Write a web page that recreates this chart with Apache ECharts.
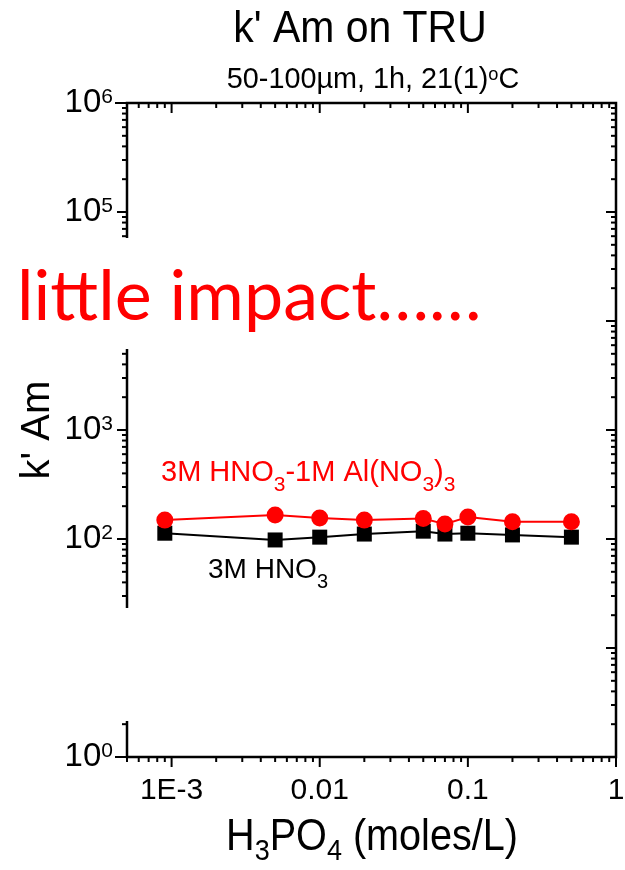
<!DOCTYPE html>
<html>
<head>
<meta charset="utf-8">
<script src="https://cdn.jsdelivr.net/npm/echarts@6/dist/echarts.min.js"></script>
<style>
  html, body { margin: 0; padding: 0; background: #fff; }
  #chart { width: 625px; height: 870px; }
</style>
</head>
<body>
<div id="chart"></div>
<script>
// H3PO4 concentration (moles/L)
const concentrations = [0.0009, 0.005, 0.01, 0.02, 0.05, 0.07, 0.1, 0.2, 0.5];
// k' Am in 3M HNO3 - 1M Al(NO3)3
const kAmHNO3Al = [149, 166, 156, 149, 154, 137, 159, 144, 144];
// k' Am in 3M HNO3
const kAmHNO3 = [113, 98, 104, 111, 118, 111, 113, 109, 104];

// axis ranges and tick labels
const X_MIN = 5e-4, X_MAX = 1;
const Y_MIN = 1, Y_MAX = 1e6;
const xTickValues = [0.001, 0.01, 0.1, 1];
const xTickLabels = ['1E-3', '0.01', '0.1', '1'];
const yTickExponents = [0, 1, 2, 3, 4, 5, 6];

const SANS = '"Liberation Sans", Arial, sans-serif';

// decade ticks (major) and 2..9 ticks (minor) inside an extent
function decadeTicks(lo, hi) {
  const major = [], minor = [];
  for (let n = Math.floor(Math.log10(lo)); n <= Math.ceil(Math.log10(hi)); n++) {
    for (let k = 1; k <= 9; k++) {
      const v = k * Math.pow(10, n);
      if (v < lo * 0.9999 || v > hi * 1.0001) continue;
      (k === 1 ? major : minor).push(v);
    }
  }
  return { major, minor };
}
const xt = decadeTicks(X_MIN, X_MAX);
const yt = decadeTicks(Y_MIN, Y_MAX);

const TICK_W = 2;
// bottom ticks point out, top ticks point in
function xTickSeries(values, len) {
  return {
    type: 'custom', silent: true, clip: false, z: 5,
    data: values.map(v => [v, Y_MIN]),
    renderItem(params, api) {
      const cs = params.coordSys;
      const x = api.coord([api.value(0), Y_MIN])[0];
      const top = cs.y, bottom = cs.y + cs.height;
      return {
        type: 'group',
        children: [
          { type: 'line', shape: { x1: x, y1: bottom, x2: x, y2: bottom + len }, style: { stroke: '#000', lineWidth: TICK_W } },
          { type: 'line', shape: { x1: x, y1: top, x2: x, y2: top + len }, style: { stroke: '#000', lineWidth: TICK_W } }
        ]
      };
    }
  };
}
// left ticks point out, right ticks point in
function yTickSeries(values, len, edgeLen) {
  return {
    type: 'custom', silent: true, clip: false, z: 5,
    data: values.map(v => [X_MIN, v]),
    renderItem(params, api) {
      const cs = params.coordSys;
      const v = api.value(1);
      const y = api.coord([X_MIN, v])[1];
      const left = cs.x, right = cs.x + cs.width;
      const outLen = (v <= Y_MIN * 1.0001 || v >= Y_MAX * 0.9999) ? edgeLen : len;
      return {
        type: 'group',
        children: [
          { type: 'line', shape: { x1: left - outLen, y1: y, x2: left, y2: y }, style: { stroke: '#000', lineWidth: TICK_W } },
          { type: 'line', shape: { x1: right - len, y1: y, x2: right, y2: y }, style: { stroke: '#000', lineWidth: TICK_W } }
        ]
      };
    }
  };
}

function isPow10(v) {
  const l = Math.log10(v);
  return Math.abs(l - Math.round(l)) < 1e-6;
}

const chart = echarts.init(document.getElementById('chart'), null, { renderer: 'canvas' });

chart.setOption({
  animation: false,
  backgroundColor: '#fff',
  grid: {
    left: 127, right: 9, top: 103, bottom: 113,
    show: true, borderColor: '#000', borderWidth: 2.5, backgroundColor: 'transparent',
    containLabel: false, outerBoundsMode: 'none'
  },
  xAxis: {
    type: 'log', logBase: 10, min: X_MIN, max: X_MAX,
    axisLine: { show: false }, axisTick: { show: false }, splitLine: { show: false }, minorTick: { show: false },
    axisLabel: {
      margin: 19, fontSize: 30, fontFamily: SANS, color: '#000',
      showMinLabel: true, showMaxLabel: true,
      formatter(v) {
        const i = xTickValues.findIndex(t => Math.abs(Math.log10(v) - Math.log10(t)) < 1e-6);
        return i >= 0 ? xTickLabels[i] : '';
      }
    }
  },
  yAxis: {
    type: 'log', logBase: 10, min: Y_MIN, max: Y_MAX, splitNumber: 6,
    axisLine: { show: false }, axisTick: { show: false }, splitLine: { show: false }, minorTick: { show: false },
    axisLabel: {
      margin: 14, color: '#000', fontFamily: SANS, fontSize: 33,
      showMinLabel: true, showMaxLabel: true,
      formatter(v) {
        if (!isPow10(v)) return '';
        const n = Math.round(Math.log10(v));
        return yTickExponents.includes(n) ? '{b|10}{s|' + n + '}' : '';
      },
      rich: {
        b: { fontSize: 33, lineHeight: 33, fontFamily: SANS, color: '#000' },
        s: { fontSize: 21, lineHeight: 10, fontFamily: SANS, color: '#000', verticalAlign: 'top' }
      }
    }
  },
  series: [
    xTickSeries(xt.major, 10),
    xTickSeries(xt.minor, 5),
    yTickSeries(yt.major, 10, 12),
    yTickSeries(yt.minor, 5, 5),
    {
      type: 'line', name: '3M HNO3',
      data: concentrations.map((c, i) => [c, kAmHNO3[i]]),
      symbol: 'rect', symbolSize: 15, showAllSymbol: true,
      lineStyle: { color: '#000', width: 2 },
      itemStyle: { color: '#000' }, z: 3
    },
    {
      type: 'line', name: '3M HNO3-1M Al(NO3)3',
      data: concentrations.map((c, i) => [c, kAmHNO3Al[i]]),
      symbol: 'circle', symbolSize: 17, showAllSymbol: true,
      lineStyle: { color: '#ff0000', width: 2 },
      itemStyle: { color: '#ff0000' }, z: 4
    }
  ],
  graphic: [
    // white text boxes laid over the left axis
    { type: 'rect', z: 100, shape: { x: 0, y: 238, width: 492, height: 111 }, style: { fill: '#fff' } },
    { type: 'rect', z: 100, shape: { x: 0, y: 608, width: 133, height: 113 }, style: { fill: '#fff' } },
    {
      type: 'text', z: 101, x: 17, y: 297,
      style: { text: 'little impact……', font: '70px Lato, "Noto Sans", sans-serif', fill: '#ff0000', align: 'left', verticalAlign: 'middle' }
    },
    {
      type: 'text', z: 101, x: 360, y: 30, scaleX: 0.93,
      style: { text: "k' Am on TRU", font: '44px ' + SANS, fill: '#000', align: 'center', verticalAlign: 'middle' }
    },
    {
      type: 'text', z: 101, x: 373, y: 80, scaleX: 0.96,
      style: {
        text: '{n|50-100µm, 1h, 21(1)}{s|o}{n|C}', align: 'center', verticalAlign: 'middle',
        rich: {
          n: { fontSize: 30, lineHeight: 30, fontFamily: SANS, fill: '#000' },
          s: { fontSize: 19, lineHeight: 8, fontFamily: SANS, fill: '#000', verticalAlign: 'top' }
        }
      }
    },
    {
      type: 'text', z: 101, x: 372, y: 816, scaleX: 0.9,
      style: {
        text: '{n|H}{b|3}{n|PO}{b|4}{n| (moles/L)}', align: 'center', verticalAlign: 'top',
        rich: {
          n: { fontSize: 44, lineHeight: 44, fontFamily: SANS, fill: '#000', verticalAlign: 'top' },
          b: { fontSize: 30, lineHeight: 72, fontFamily: SANS, fill: '#000' }
        }
      }
    },
    {
      type: 'text', z: 101, x: 38, y: 430, rotation: Math.PI / 2,
      style: { text: "k' Am", font: '40px ' + SANS, fill: '#000', align: 'center', verticalAlign: 'middle' }
    },
    {
      type: 'text', z: 101, x: 161, y: 458,
      style: {
        text: '{n|3M HNO}{b|3}{n|-1M Al(NO}{b|3}{n|)}{b|3}', align: 'left', verticalAlign: 'top',
        rich: {
          n: { fontSize: 29, lineHeight: 29, fontFamily: SANS, fill: '#ff0000', verticalAlign: 'top' },
          b: { fontSize: 21, lineHeight: 54, fontFamily: SANS, fill: '#ff0000' }
        }
      }
    },
    {
      type: 'text', z: 101, x: 208, y: 556,
      style: {
        text: '{n|3M HNO}{b|3}', align: 'left', verticalAlign: 'top',
        rich: {
          n: { fontSize: 28, lineHeight: 28, fontFamily: SANS, fill: '#000', verticalAlign: 'top' },
          b: { fontSize: 20, lineHeight: 52, fontFamily: SANS, fill: '#000' }
        }
      }
    }
  ]
});
</script>
</body>
</html>
